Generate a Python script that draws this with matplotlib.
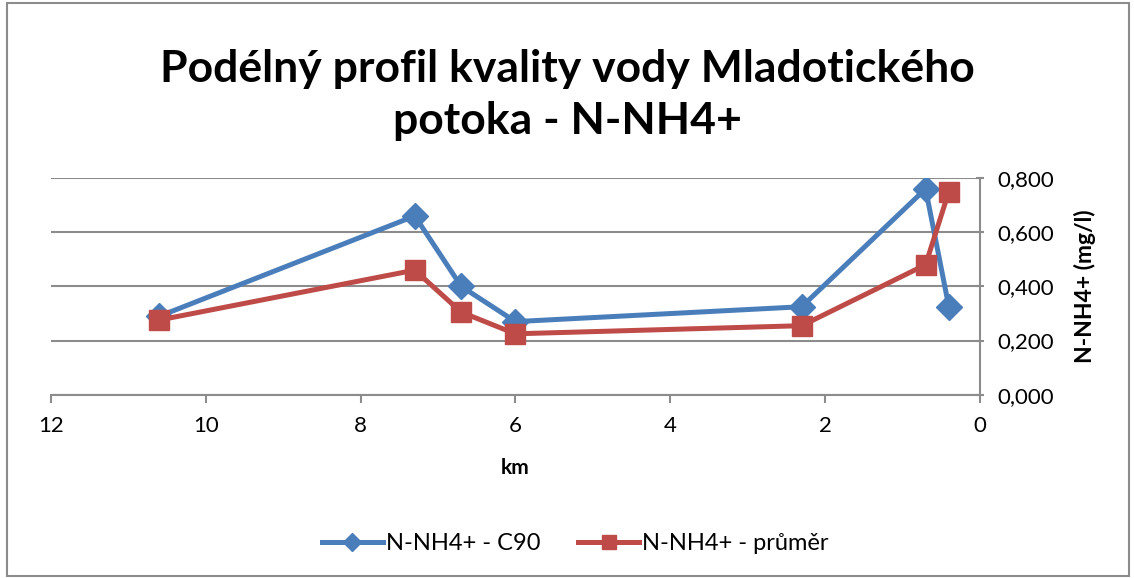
# Longitudinal profile of N-NH4+ along Mladotický potok
import matplotlib.pyplot as plt
from matplotlib.patches import Rectangle

plt.rcParams['font.family'] = ['Lato', 'DejaVu Sans']

# Data
km = [10.6, 7.3, 6.7, 6.0, 2.3, 0.7, 0.4]
c90 = [0.290, 0.660, 0.400, 0.270, 0.325, 0.760, 0.325]
prumer = [0.276, 0.460, 0.305, 0.225, 0.255, 0.480, 0.750]

x_ticks = [12, 10, 8, 6, 4, 2, 0]
y_ticks = [0.0, 0.2, 0.4, 0.6, 0.8]

fig = plt.figure(figsize=(11.34, 5.78), dpi=100)
ax = fig.add_axes([0.045, 0.317, 0.819, 0.375])

ax.plot(km, c90, color='#4A7EBB', lw=3.6, marker='D', ms=13,
        label='N-NH4+ - C90', zorder=3)
ax.plot(km, prumer, color='#BE4B48', lw=3.6, marker='s', ms=15,
        label='N-NH4+ - průměr', zorder=3)

ax.set_xlim(12, 0)
ax.set_ylim(0, 0.8)
ax.set_xticks(x_ticks)
ax.set_yticks(y_ticks)
ax.set_yticklabels([('%.3f' % v).replace('.', ',') for v in y_ticks])

ax.yaxis.tick_right()
ax.yaxis.set_label_position('right')
ax.grid(axis='y', color='#8C8C8C', lw=1.5)
ax.set_axisbelow(True)
for s in ['top', 'left']:
    ax.spines[s].set_visible(False)
for s in ['bottom', 'right']:
    ax.spines[s].set_color('#8C8C8C')
    ax.spines[s].set_linewidth(1.5)
ax.tick_params(axis='x', colors='#8C8C8C', labelcolor='black', labelsize=16,
               length=6, width=1.5, pad=9)
ax.tick_params(axis='y', colors='#8C8C8C', labelcolor='black', labelsize=16,
               length=6, width=1.5, direction='inout', pad=10)

ax.set_xlabel('km', fontsize=15, fontweight='bold', labelpad=16)
ax.set_ylabel('N-NH4+ (mg/l)', fontsize=16.5, fontweight='bold', labelpad=14)

fig.text(0.5, 0.836, 'Podélný profil kvality vody Mladotického\npotoka - N-NH4+',
         ha='center', va='center', fontsize=32, fontweight='bold',
         linespacing=1.38)

fig.legend(loc='center', bbox_to_anchor=(0.507, 0.06), ncol=2, frameon=False,
           fontsize=17, handlelength=2.6, columnspacing=1.6, handletextpad=0.1,
           markerscale=0.7)

fig.patches.append(Rectangle((0.006, 0.004), 0.99, 0.99, transform=fig.transFigure,
                             fill=False, edgecolor='#8C8C8C', lw=1.5))

fig.savefig('out.png', dpi=100)
